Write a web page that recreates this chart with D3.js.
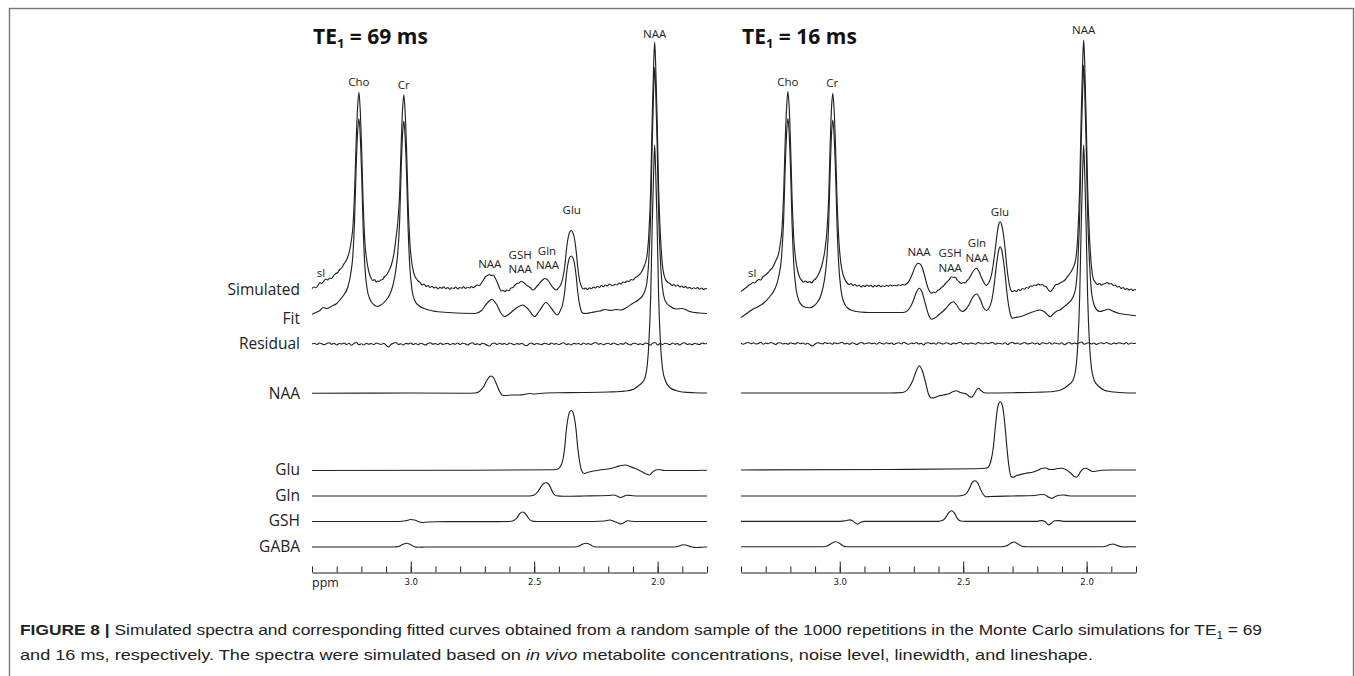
<!DOCTYPE html>
<html>
<head>
<meta charset="utf-8">
<script src="https://cdn.jsdelivr.net/npm/d3@7"></script>
<style>
  body { margin: 0; background: #fff; }
  svg { display: block; }
</style>
</head>
<body>
<svg width="1355" height="676"></svg>
<script>
// ---- data (ppm, amplitude in a.u.; NAA singlet ~ 100) ----

// TE1 = 69 ms
const simLeft = [
  [3.400, 0.0],[3.392, 0.6],[3.384, 0.3],[3.376, 1.2],[3.368, 2.4],[3.360, 2.0],[3.352, 3.0],[3.344, 3.8],[3.336, 3.4],[3.328, 4.2],
  [3.320, 4.0],[3.312, 5.2],[3.304, 6.0],[3.296, 6.4],[3.288, 7.6],[3.280, 8.2],[3.272, 9.6],[3.264, 10.8],[3.256, 12.4],[3.248, 15],
  [3.241, 19],[3.234, 25],[3.227, 40],[3.221, 59],[3.215, 73],[3.210, 78.5],[3.205, 72],[3.199, 56],[3.193, 35],[3.186, 19],
  [3.177, 10.5],[3.170, 6.8],[3.162, 4.4],[3.154, 3.2],[3.146, 3.6],[3.140, 2.6],[3.134, 3.0],[3.128, 2.8],[3.122, 3.4],[3.114, 3.6],
  [3.106, 4.8],[3.098, 5.4],[3.088, 7.2],[3.078, 9.6],[3.068, 14],[3.060, 20],[3.052, 27],[3.045, 38],[3.039, 57],[3.033, 72],
  [3.028, 77.5],[3.023, 71],[3.017, 56],[3.011, 35],[3.004, 19],[2.995, 9.8],[2.986, 5.6],[2.978, 4.0],[2.970, 3.0],[2.962, 2.4],
  [2.954, 1.4],[2.946, 1.8],[2.938, 0.8],[2.930, 1.2],[2.922, 0.4],[2.914, 0.9],[2.906, 0.2],[2.898, 0.6],[2.890, -0.2],[2.882, 0.5],
  [2.874, 0.1],[2.866, 0.7],[2.858, -0.1],[2.850, 0.4],[2.842, -0.3],[2.834, 0.3],[2.826, 0.0],[2.818, 0.6],[2.810, -0.2],[2.802, 0.4],
  [2.794, 0.1],[2.786, 0.7],[2.778, 0.0],[2.770, 0.5],[2.762, 0.2],[2.754, 0.8],[2.746, 0.3],[2.738, 0.9],[2.730, 1.4],[2.722, 1.2],
  [2.714, 2.2],[2.706, 3.4],[2.698, 4.6],[2.690, 5.2],[2.682, 5.6],[2.674, 5.2],[2.666, 5.4],[2.658, 4.2],[2.650, 2.6],[2.642, 0.6],
  [2.634, -1.0],[2.626, -0.8],[2.618, -1.2],[2.610, -0.6],[2.602, -0.9],[2.594, 0.2],[2.586, 0.4],[2.578, 1.4],[2.570, 2.0],[2.562, 2.2],
  [2.554, 2.8],[2.546, 2.6],[2.538, 2.0],[2.530, 1.2],[2.522, 0.8],[2.514, 0.2],[2.506, -0.6],[2.498, -0.2],[2.490, 0.8],[2.482, 1.6],
  [2.474, 2.6],[2.466, 3.4],[2.458, 4.0],[2.450, 3.8],[2.442, 3.0],[2.434, 1.8],[2.426, 0.6],[2.418, -0.2],[2.410, -0.6],[2.402, 0.2],
  [2.392, 1.6],[2.384, 4.2],[2.376, 9],[2.370, 15],[2.362, 20.5],[2.356, 22.6],[2.350, 23.2],[2.344, 22.4],[2.338, 20.5],[2.330, 15],
  [2.324, 9],[2.316, 3.2],[2.308, 0.6],[2.300, -0.2],[2.292, 0.2],[2.284, -0.4],[2.276, 0.3],[2.268, -0.1],[2.260, 0.6],[2.252, 0.2],
  [2.244, 0.9],[2.236, 0.4],[2.228, 1.2],[2.220, 0.7],[2.212, 1.4],[2.204, 1.0],[2.196, 1.8],[2.188, 1.3],[2.180, 1.2],[2.172, 1.7],
  [2.164, 1.4],[2.156, 2.2],[2.148, 1.8],[2.140, 2.6],[2.132, 2.4],[2.124, 3.0],[2.116, 2.8],[2.108, 3.6],[2.100, 3.4],[2.090, 4.4],
  [2.080, 5.0],[2.068, 6.2],[2.056, 8.6],[2.044, 12.5],[2.036, 21],[2.028, 40],[2.022, 68],[2.016, 90],[2.012, 98.6],[2.008, 90],
  [2.002, 68],[1.996, 40],[1.988, 20],[1.980, 9],[1.968, 3.6],[1.958, 2.4],[1.950, 2.0],[1.942, 1.2],[1.934, 1.6],[1.926, 0.9],
  [1.918, 1.4],[1.910, 0.6],[1.902, 1.0],[1.894, 0.4],[1.886, 0.8],[1.878, 0.1],[1.870, 0.5],[1.862, -0.2],[1.854, 0.3],[1.846, 0.0],
  [1.838, 0.4],[1.830, -0.3],[1.822, 0.2],[1.814, -0.4],[1.806, 0.0],[1.800, -0.2]
];

const fitLeft = [
  [3.400, -0.3],[3.385, 0.4],[3.368, 1.2],[3.355, 2.4],[3.340, 2.0],[3.322, 2.8],[3.300, 4.0],[3.285, 5.6],[3.270, 7.6],[3.255, 10.5],
  [3.243, 16],[3.234, 24],[3.227, 39],[3.221, 59],[3.215, 73],[3.210, 78],[3.205, 72],[3.199, 56],[3.193, 35],[3.186, 19],
  [3.177, 10],[3.165, 5.6],[3.150, 3.6],[3.137, 2.8],[3.121, 3.4],[3.101, 5.2],[3.085, 7.6],[3.073, 11],[3.061, 17],[3.052, 25],
  [3.045, 37],[3.039, 57],[3.033, 72],[3.028, 77],[3.023, 71],[3.017, 56],[3.011, 35],[3.004, 19],[2.995, 9.5],[2.983, 5],
  [2.965, 3],[2.940, 1.8],[2.910, 1],[2.850, 0.4],[2.740, 0],[2.713, 1.2],[2.692, 4],[2.672, 5.6],[2.652, 3.6],[2.636, 0.4],
  [2.620, -1.2],[2.599, 0],[2.575, 2],[2.547, 3.4],[2.523, 1.6],[2.499, -1.2],[2.478, 1.2],[2.452, 4.4],[2.430, 2],[2.406, -0.6],
  [2.394, 1.2],[2.384, 4],[2.376, 9],[2.370, 15],[2.362, 20.5],[2.356, 22.5],[2.350, 23],[2.344, 22.5],[2.338, 20.5],[2.330, 15],
  [2.324, 9],[2.314, 2.6],[2.304, 0.2],[2.292, 0],[2.268, 0.4],[2.235, 1],[2.211, 1.6],[2.190, 1.2],[2.170, 1.6],[2.150, 1.4],
  [2.126, 2.4],[2.102, 4],[2.076, 5.6],[2.056, 8],[2.044, 12],[2.036, 21],[2.028, 40],[2.022, 68],[2.016, 90],[2.012, 98.4],
  [2.008, 90],[2.002, 68],[1.996, 40],[1.988, 20],[1.980, 10],[1.968, 4.8],[1.948, 2.8],[1.925, 1.8],[1.899, 2.0],[1.871, 0.8],
  [1.831, 0.2],[1.800, 0]
];

// residual, 161 samples evenly spaced from 3.4 to 1.8 ppm
const resLeft = [
  0, 0.3, -0.2, 0.4, 0.1, -0.3, 0.2, 0.5, -0.1, 0.3, -0.4, 0.2, 0.0, 0.4, -0.2, 0.3, -0.5, 0.2, 0.6, -0.3,
  0.1, -0.4, 0.3, -0.1, 0.2, -0.3, 0.4, 0.1, -0.2, 0.3, -0.5, -1.2, -0.2, 0.3, 0.6, -0.2, 0.1, -0.4, 0.3, 0.0,
  0.4, -0.2, 0.2, -0.3, 0.3, 0.0, -0.4, 0.2, 0.5, -0.1, 0.2, -0.3, 0.4, -0.2, 0.1, 0.3, -0.3, 0.2, -0.1, 0.4,
  -0.2, 0.3, 0.1, -0.4, 0.2, 0.5, -0.2, 0.1, -0.3, 0.3, 0.0, -0.5, -0.8, 0.2, 0.4, -0.2, 0.3, -0.1, 0.2, -0.3,
  0.4, 0.1, -0.3, 0.2, -0.1, 0.3, -0.4, -0.7, 0.1, 0.4, -0.2, 0.2, 0.0, -0.3, 0.3, 0.1, -0.2, 0.4, -0.1, 0.2,
  -0.3, 0.2, 0.5, -0.2, 0.1, -0.4, 0.3, 0.0, 0.2, -0.3, 0.4, -0.1, 0.2, -0.2, 0.3, 0.6, -0.1, 0.2, -0.3, 0.1,
  0.3, -0.2, 0.4, 0.1, -0.3, 0.2, -0.1, 0.5, 0.0, -0.4, 0.2, 0.3, -0.2, 0.1, -0.3, 0.4, 0.2, -0.5, 0.3, 0.6,
  -0.4, 0.2, -0.2, 0.3, 0.1, -0.3, 0.4, -0.1, 0.2, -0.4, 0.3, 0.5, -0.2, 0.1, -0.3, 0.3, 0.0, -0.2, 0.4, 0.1, 0.2
];

const naaLeft = [
  [3.400, -0.1],[3.000, 0],[2.780, -0.1],[2.740, 0],[2.722, 0.6],[2.706, 2.4],[2.692, 5.0],[2.680, 6.6],[2.674, 6.8],[2.664, 6.0],
  [2.652, 3.4],[2.640, 0.6],[2.628, -0.9],[2.615, -1.0],[2.590, -0.8],[2.560, -0.8],[2.540, -0.6],[2.520, -0.2],[2.500, -0.4],[2.480, -0.2],
  [2.450, 0],[2.400, 0.1],[2.300, 0.2],[2.200, 0.4],[2.150, 0.6],[2.120, 0.9],[2.096, 1.6],[2.076, 3.0],[2.056, 5],[2.044, 9.6],
  [2.036, 19],[2.028, 39],[2.022, 67],[2.016, 89],[2.012, 99.2],[2.008, 89],[2.002, 67],[1.996, 39],[1.988, 19],[1.980, 9.6],
  [1.968, 4.8],[1.948, 2.0],[1.925, 1.0],[1.900, 0.4],[1.850, 0.1],[1.800, 0]
];
const gluLeft = [
  [3.400, 0],[2.800, 0.1],[2.420, 0.3],[2.404, 0.6],[2.394, 1.6],[2.384, 4.2],[2.376, 9.5],[2.370, 16],[2.362, 21.5],[2.356, 23.5],
  [2.350, 24],[2.344, 23.5],[2.338, 21.5],[2.330, 16],[2.324, 9.5],[2.316, 3.5],[2.308, 0],[2.298, -1.2],[2.285, -0.8],[2.260, -0.2],
  [2.235, 0.2],[2.190, 0.8],[2.168, 1.4],[2.148, 2.0],[2.130, 2.2],[2.112, 1.6],[2.090, 0.8],[2.065, -0.4],[2.046, -1.4],[2.034, -1.8],
  [2.022, -0.8],[2.008, 0.2],[1.992, 0.4],[1.975, 0],[1.900, 0],[1.800, 0.1]
];
const glnLeft = [
  [3.400, 0],[2.520, 0],[2.500, 0.4],[2.486, 1.6],[2.472, 3.8],[2.461, 5.0],[2.451, 5.3],[2.442, 4.8],[2.432, 3.0],[2.422, 1.0],
  [2.410, 0.1],[2.380, -0.1],[2.300, 0],[2.200, 0.2],[2.176, 0.4],[2.160, -0.2],[2.150, -0.6],[2.140, -0.3],[2.125, 0.3],[2.110, 0.2],
  [2.080, 0],[1.800, 0]
];
const gshLeft = [
  [3.400, 0],[3.050, 0],[3.020, 0.3],[3.000, 0.8],[2.985, 0.6],[2.970, 0],[2.955, -0.4],[2.930, -0.2],[2.900, -0.1],[2.600, 0],
  [2.585, 0.3],[2.570, 1.4],[2.558, 3.2],[2.546, 3.8],[2.534, 3.0],[2.522, 1.2],[2.510, 0.2],[2.490, 0],[2.300, 0],[2.215, 0.2],
  [2.195, 0.6],[2.175, 0],[2.160, -0.6],[2.148, -1.0],[2.136, -0.4],[2.122, 0.3],[2.105, 0.1],[2.080, 0],[1.800, 0]
];
const gabaLeft = [
  [3.400, 0],[3.070, 0],[3.050, 0.2],[3.035, 0.9],[3.017, 1.5],[3.000, 0.9],[2.985, 0.1],[2.970, -0.1],[2.940, 0],[2.340, 0],
  [2.320, 0.3],[2.305, 1.1],[2.289, 1.5],[2.272, 0.9],[2.258, 0.1],[2.240, 0],[1.930, 0],[1.915, 0.3],[1.902, 0.8],[1.890, 0.9],
  [1.875, 0.4],[1.860, 0],[1.845, -0.2],[1.820, -0.1],[1.800, 0]
];

// TE1 = 16 ms
const simRight = [
  [3.400, -2.0],[3.392, -1.4],[3.384, -0.8],[3.376, -0.2],[3.368, 0.6],[3.360, 1.0],[3.352, 1.6],[3.344, 1.4],[3.336, 2.2],[3.328, 2.8],
  [3.320, 2.6],[3.312, 3.8],[3.304, 4.4],[3.296, 5.0],[3.288, 5.8],[3.280, 6.8],[3.272, 7.6],[3.264, 9.2],[3.256, 11],[3.248, 13],
  [3.241, 17],[3.234, 23],[3.227, 38],[3.221, 58],[3.215, 72],[3.210, 78],[3.205, 72],[3.199, 56],[3.193, 35],[3.186, 19],
  [3.177, 9.8],[3.170, 6.0],[3.162, 3.6],[3.154, 2.4],[3.146, 1.8],[3.138, 2.2],[3.130, 1.6],[3.122, 2.0],[3.114, 1.4],[3.106, 2.4],
  [3.098, 3.0],[3.090, 4.2],[3.080, 6.2],[3.070, 9.4],[3.061, 14],[3.052, 22],[3.045, 35],[3.039, 56],[3.033, 72],[3.028, 77.3],
  [3.023, 71],[3.017, 56],[3.011, 35],[3.004, 19],[2.995, 9],[2.986, 4.6],[2.978, 2.6],[2.970, 1.4],[2.962, 0.8],[2.954, 1.2],
  [2.946, 0.4],[2.938, 0.8],[2.930, 0.1],[2.922, 0.6],[2.914, -0.2],[2.906, 0.4],[2.898, 0.0],[2.890, 0.6],[2.882, 0.1],[2.874, 0.5],
  [2.866, -0.2],[2.858, 0.4],[2.850, 0.0],[2.842, 0.6],[2.834, -0.1],[2.826, 0.3],[2.818, 0.0],[2.810, 0.5],[2.802, 0.1],[2.794, 0.6],
  [2.786, 0.2],[2.778, 0.5],[2.770, 0.3],[2.762, 0.7],[2.754, 0.4],[2.746, 0.8],[2.738, 0.6],[2.728, 1.2],[2.718, 2.4],[2.706, 5.0],
  [2.694, 8.0],[2.684, 9.3],[2.676, 9.1],[2.666, 7.6],[2.656, 4.2],[2.646, 0.4],[2.636, -2.0],[2.628, -2.7],[2.620, -2.2],[2.612, -2.5],
  [2.604, -1.6],[2.596, -1.2],[2.588, -0.4],[2.580, 0.2],[2.572, 1.2],[2.564, 2.0],[2.556, 2.8],[2.548, 3.9],[2.540, 3.6],[2.532, 3.8],
  [2.524, 2.6],[2.516, 1.8],[2.508, 1.2],[2.500, 1.6],[2.492, 1.4],[2.484, 2.4],[2.476, 3.2],[2.466, 5.0],[2.456, 6.6],[2.446, 7.3],
  [2.436, 6.0],[2.426, 3.6],[2.416, 1.6],[2.406, 0.4],[2.396, 1.6],[2.386, 4.4],[2.378, 9],[2.370, 15],[2.362, 21.5],[2.356, 24.8],
  [2.350, 25.9],[2.344, 24.6],[2.338, 21.5],[2.330, 15],[2.324, 8.6],[2.316, 2.4],[2.308, -1.2],[2.300, -2.1],[2.292, -1.6],[2.284, -2.0],
  [2.276, -1.2],[2.268, -1.6],[2.260, -0.8],[2.252, -1.1],[2.244, -0.4],[2.236, -0.7],[2.228, 0.2],[2.220, 0.1],[2.212, 0.6],[2.204, 0.4],
  [2.196, 1.0],[2.188, 0.6],[2.180, 0.8],[2.172, 0.2],[2.164, -0.1],[2.156, -1.2],[2.148, -2.0],[2.140, -1.4],[2.132, -0.2],[2.124, 0.8],
  [2.116, 0.9],[2.108, 1.4],[2.100, 1.8],[2.090, 2.4],[2.080, 3.6],[2.068, 5.2],[2.056, 7.2],[2.044, 11],[2.036, 20],[2.028, 40],
  [2.022, 68],[2.016, 90],[2.012, 98.6],[2.008, 90],[2.002, 68],[1.996, 40],[1.988, 19],[1.980, 7.6],[1.972, 2.8],[1.964, 1.6],
  [1.956, 0.8],[1.948, 1.2],[1.940, 0.6],[1.932, 1.0],[1.924, 1.2],[1.916, 1.6],[1.908, 1.0],[1.900, 1.2],[1.892, 0.4],[1.884, 0.6],
  [1.876, -0.2],[1.868, 0.0],[1.860, -0.8],[1.852, -0.4],[1.844, -1.2],[1.836, -0.8],[1.828, -1.4],[1.820, -1.0],[1.812, -1.6],[1.806, -1.2],
  [1.800, -1.4]
];

const fitRight = [
  [3.400, -2.0],[3.380, -0.6],[3.357, 1.0],[3.330, 2.4],[3.310, 3.6],[3.283, 6.4],[3.262, 9.6],[3.248, 14],[3.236, 22],[3.227, 38],
  [3.221, 58],[3.215, 72],[3.210, 77.7],[3.205, 72],[3.199, 56],[3.193, 35],[3.186, 19],[3.177, 9.5],[3.165, 4.6],[3.150, 2.6],
  [3.135, 2.0],[3.121, 1.9],[3.105, 2.6],[3.090, 4.2],[3.076, 7],[3.062, 13],[3.052, 22],[3.045, 35],[3.039, 56],[3.033, 72],
  [3.028, 77],[3.023, 71],[3.017, 56],[3.011, 35],[3.004, 19],[2.995, 9],[2.983, 4],[2.970, 2.0],[2.955, 1.0],[2.918, 0.2],
  [2.880, 0],[2.745, 0],[2.730, 0.4],[2.718, 1.6],[2.705, 4.0],[2.690, 8.0],[2.678, 9.7],[2.666, 8.0],[2.652, 3.0],[2.640, -1.0],
  [2.628, -2.7],[2.615, -2.2],[2.600, -1.0],[2.585, 0.2],[2.570, 1.6],[2.555, 3.4],[2.540, 4.3],[2.528, 3.2],[2.516, 1.4],[2.504, 0.4],
  [2.490, 1.2],[2.475, 3.4],[2.462, 6.0],[2.445, 7.4],[2.430, 5.0],[2.418, 2.0],[2.405, 0.8],[2.394, 2.0],[2.384, 5],[2.376, 10],
  [2.370, 15],[2.362, 21.5],[2.356, 25],[2.350, 26.3],[2.344, 25],[2.338, 21.5],[2.330, 15],[2.324, 9],[2.316, 2.8],[2.308, -1.0],
  [2.300, -2.3],[2.290, -2.0],[2.270, -1.7],[2.250, -1.0],[2.230, -0.2],[2.216, 0.3],[2.200, 0.8],[2.189, 1.0],[2.170, 0.2],[2.155, -1.2],
  [2.148, -1.7],[2.135, -0.5],[2.120, 0.6],[2.108, 1.0],[2.095, 2.0],[2.076, 3.6],[2.056, 6],[2.044, 10],[2.036, 19.5],[2.028, 39.5],
  [2.022, 67.5],[2.016, 89.5],[2.012, 99],[2.008, 89.5],[2.002, 67.5],[1.996, 39.5],[1.988, 19.5],[1.980, 8],[1.972, 3.8],[1.960, 1.2],
  [1.946, 0.4],[1.930, 0.8],[1.912, 1.3],[1.895, 0.6],[1.870, -0.3],[1.840, -0.8],[1.800, -1.3]
];

const resRight = [
  0.1, -0.3, 0.2, 0.4, -0.1, 0.3, -0.2, 0.0, 0.5, -0.3, 0.2, -0.1, 0.4, 0.1, -0.4, 0.2, 0.3, -0.2, 0.1, -0.3,
  0.3, 0.0, -0.2, 0.4, -0.1, 0.2, -0.3, 0.1, -0.5, -1.0, -0.2, 0.3, 0.1, -0.2, 0.4, 0.0, 0.2, -0.3, 0.3, -0.1,
  0.2, 0.5, -0.2, 0.1, -0.3, 0.3, 0.0, -0.4, 0.2, 0.4, -0.2, 0.1, 0.3, -0.1, 0.2, -0.3, 0.4, 0.0, -0.2, 0.3,
  -0.1, 0.2, -0.4, 0.1, 0.3, -0.2, 0.5, 0.0, -0.3, 0.2, -0.1, 0.4, -0.2, 0.1, -0.6, 0.2, 0.3, -0.1, 0.2, -0.3,
  0.4, 0.0, -0.2, 0.3, 0.1, -0.4, 0.2, -0.1, 0.3, 0.5, -0.3, 0.1, -0.2, 0.2, 0.0, -0.3, 0.4, 0.1, -0.2, 0.3,
  -0.1, 0.2, 0.4, -0.3, 0.1, 0.0, -0.2, 0.3, -0.4, 0.2, 0.5, -0.1, 0.2, -0.3, 0.1, 0.4, -0.2, 0.0, 0.3, -0.2,
  0.2, -0.4, 0.3, 0.1, -0.1, 0.4, -0.3, 0.2, 0.0, -0.2, 0.3, -0.5, 0.1, 0.4, -0.2, 0.2, -0.1, 0.3, 0.6, -0.3,
  0.1, 0.3, -0.2, 0.2, -0.4, 0.1, 0.3, -0.1, 0.4, 0.0, -0.3, 0.2, -0.1, 0.3, 0.1, -0.2, 0.4, -0.3, 0.2, 0.0, 0.1
];

const naaRight = [
  [3.400, 0],[2.800, 0],[2.745, 0.2],[2.725, 1.4],[2.705, 4.8],[2.690, 8.8],[2.678, 10.9],[2.666, 9.0],[2.652, 4.0],[2.640, -0.6],
  [2.628, -2.0],[2.615, -1.8],[2.600, -1.2],[2.580, -0.8],[2.555, -0.2],[2.540, 0.6],[2.526, 0.9],[2.512, 0.2],[2.500, -0.1],[2.488, -0.3],
  [2.478, -1.2],[2.466, -1.7],[2.455, -0.4],[2.445, 1.4],[2.438, 1.9],[2.428, 1.0],[2.415, 0.1],[2.400, 0],[2.300, 0.1],[2.200, 0.3],
  [2.135, 0.6],[2.100, 1.4],[2.076, 3.0],[2.056, 5],[2.044, 9.6],[2.036, 19],[2.028, 39],[2.022, 67],[2.016, 89],[2.012, 99.2],
  [2.008, 89],[2.002, 67],[1.996, 39],[1.988, 19],[1.980, 9.6],[1.968, 4.8],[1.948, 2.4],[1.930, 1.2],[1.900, 0.5],[1.850, 0.1],
  [1.800, 0]
];
const gluRight = [
  [3.400, 0],[2.800, 0.2],[2.450, 0.5],[2.410, 0.7],[2.398, 1.2],[2.388, 3.5],[2.378, 9],[2.370, 17],[2.362, 24],[2.356, 26.6],
  [2.350, 27.3],[2.344, 26.6],[2.338, 24],[2.330, 17],[2.322, 8],[2.314, 1.0],[2.306, -2.6],[2.298, -2.9],[2.285, -2.3],[2.250, -1.4],
  [2.216, -0.8],[2.195, 0],[2.180, 0.7],[2.165, 0.8],[2.150, 0.2],[2.135, 0.2],[2.118, 0.6],[2.100, 0.7],[2.085, 0.2],[2.065, -1.2],
  [2.050, -2.6],[2.040, -2.9],[2.028, -1.2],[2.015, 0.4],[2.002, 0.7],[1.990, 0.1],[1.975, -0.6],[1.960, -0.4],[1.940, -0.1],[1.900, 0],
  [1.800, 0]
];
const glnRight = [
  [3.400, 0],[2.520, 0],[2.500, 0.3],[2.485, 1.2],[2.472, 3.6],[2.462, 5.6],[2.452, 6.1],[2.442, 5.4],[2.432, 3.2],[2.420, 0.8],
  [2.408, -0.3],[2.390, -0.2],[2.300, 0],[2.210, 0.2],[2.185, 0.6],[2.170, 0.5],[2.155, -0.4],[2.142, -0.9],[2.128, -0.3],[2.110, 0.3],
  [2.092, 0.4],[2.075, 0.1],[2.050, 0],[1.800, 0]
];
const gshRight = [
  [3.400, 0],[3.000, 0],[2.975, 0.2],[2.960, 0.6],[2.948, 0.2],[2.938, -0.6],[2.928, -1.1],[2.915, -0.4],[2.900, 0],[2.600, 0],
  [2.585, 0.3],[2.572, 1.4],[2.558, 3.5],[2.547, 4.2],[2.536, 3.4],[2.524, 1.2],[2.510, 0.1],[2.490, 0],[2.200, 0],[2.182, 0.3],
  [2.168, -0.2],[2.155, -1.4],[2.143, -0.8],[2.130, 0.2],[2.115, 0.3],[2.095, 0],[1.800, 0]
];
const gabaRight = [
  [3.400, 0],[3.070, 0],[3.050, 0.3],[3.034, 1.3],[3.016, 2.0],[2.998, 1.2],[2.984, 0.2],[2.970, 0],[2.345, 0],[2.326, 0.3],
  [2.310, 1.2],[2.294, 1.9],[2.278, 1.1],[2.262, 0.2],[2.245, 0],[1.935, 0],[1.920, 0.3],[1.905, 0.9],[1.892, 1.1],[1.878, 0.6],
  [1.864, 0.1],[1.850, -0.1],[1.830, 0],[1.800, 0]
];

// peak annotations: text, ppm, level (a.u. above the simulated trace baseline)
const peakLabelsLeft = [
  ["sl", 3.364, 6.2], ["Cho", 3.210, 82.6], ["Cr", 3.028, 81.4], ["NAA", 2.680, 9.8],
  ["GSH", 2.557, 13.6], ["NAA", 2.557, 8.0], ["Gln", 2.448, 15.2], ["NAA", 2.446, 9.6],
  ["Glu", 2.348, 31.4], ["NAA", 2.012, 101.8]
];
const peakLabelsRight = [
  ["sl", 3.355, 5.4], ["Cho", 3.210, 81.8], ["Cr", 3.030, 81.4], ["NAA", 2.679, 13.8],
  ["GSH", 2.553, 13.4], ["NAA", 2.553, 7.4], ["Gln", 2.444, 17.4], ["NAA", 2.444, 11.4],
  ["Glu", 2.351, 29.9], ["NAA", 2.012, 102.6]
];

const rowNames = ["Simulated", "Fit", "Residual", "NAA", "Glu", "Gln", "GSH", "GABA"];
const minorTicks = [3.4, 3.3, 3.2, 3.1, 3.0, 2.9, 2.8, 2.7, 2.6, 2.5, 2.4, 2.3, 2.2, 2.1, 2.0, 1.9, 1.8];
const majorTicks = [3.0, 2.5, 2.0];
const tickLabels = ["3.0", "2.5", "2.0"];
const echoTimes = ["69", "16"];

// ---- layout ----
const svg = d3.select("svg");
const ink = "#222";
const sans = "'Open Sans', 'Noto Sans', sans-serif";

// figure frame
svg.append("rect")
  .attr("x", 9.5).attr("y", 8.5).attr("width", 1344).attr("height", 720)
  .attr("fill", "none").attr("stroke", "#777").attr("stroke-width", 1.4);

const amp = d3.scaleLinear().domain([0, 100]).range([0, 250]);
const resIndex = d3.scaleLinear().domain([0, 160]).range([3.4, 1.8]);

// trace baselines (px): sim, fit, residual, NAA, Glu, Gln, GSH, GABA
const basesLeft = [288.5, 313.5, 344, 393, 470.5, 496, 521.5, 547];
const basesRight = [286.5, 312.5, 343.5, 393, 470, 496, 521.3, 546.7];
const rowLabelY = [290, 319, 344, 394, 470, 496, 521, 547];

const panels = [
  { range: [312, 707], te: echoTimes[0], sim: simLeft, fit: fitLeft, res: resLeft,
    comps: [naaLeft, gluLeft, glnLeft, gshLeft, gabaLeft], labels: peakLabelsLeft, bases: basesLeft, first: true },
  { range: [741, 1136], te: echoTimes[1], sim: simRight, fit: fitRight, res: resRight,
    comps: [naaRight, gluRight, glnRight, gshRight, gabaRight], labels: peakLabelsRight, bases: basesRight, first: false }
];

panels.forEach(p => {
  const x = d3.scaleLinear().domain([3.4, 1.8]).range(p.range);
  const g = svg.append("g");

  const traces = [p.sim, p.fit, p.res.map((v, i) => [resIndex(i), v])].concat(p.comps);
  traces.forEach((t, i) => {
    const base = p.bases[i];
    const line = d3.line()
      .x(d => x(d[0]))
      .y(d => base - amp(d[1]))
      .curve(d3.curveMonotoneX);
    g.append("path")
      .datum(t)
      .attr("d", line)
      .attr("fill", "none")
      .attr("stroke", ink)
      .attr("stroke-width", 1.15)
      .attr("stroke-linejoin", "round");
  });

  // peak names
  g.selectAll("text.peak")
    .data(p.labels)
    .enter()
    .append("text")
    .attr("class", "peak")
    .attr("x", d => x(d[1]))
    .attr("y", d => p.bases[0] - amp(d[2]))
    .attr("dy", "0.35em")
    .attr("text-anchor", "middle")
    .attr("font-family", sans)
    .attr("font-size", 11.5)
    .attr("fill", ink)
    .text(d => d[0]);

  // title
  const title = g.append("text")
    .attr("x", p.range[0] + 1)
    .attr("y", 44)
    .attr("font-family", sans)
    .attr("font-weight", "bold")
    .attr("font-size", 21)
    .attr("fill", "#111");
  title.append("tspan").text("TE");
  title.append("tspan").attr("font-size", 13).attr("dy", 4).text("1");
  title.append("tspan").attr("dy", -4).text(" = " + p.te + " ms");

  // ppm axis: minor ticks every 0.1, major ticks with labels
  const axisY = 572.5;
  const minor = g.append("g").attr("transform", `translate(0,${axisY})`)
    .call(d3.axisBottom(x).tickValues(minorTicks).tickSizeInner(-6).tickSizeOuter(0).tickFormat(""));
  const major = g.append("g").attr("transform", `translate(0,${axisY})`)
    .call(d3.axisBottom(x).tickValues(majorTicks).tickSizeInner(-11).tickSizeOuter(0).tickPadding(6)
      .tickFormat((d, i) => tickLabels[i]));
  major.select(".domain").remove();
  [minor, major].forEach(a => {
    a.selectAll("path, line").attr("stroke", ink).attr("stroke-width", 1);
  });
  major.selectAll("text")
    .attr("font-family", "'DejaVu Sans', sans-serif")
    .attr("font-size", 8.5)
    .attr("fill", ink);

  if (p.first) {
    g.append("text")
      .attr("x", p.range[0])
      .attr("y", axisY + 10)
      .attr("dy", "0.35em")
      .attr("font-family", sans)
      .attr("font-size", 12.5)
      .attr("fill", ink)
      .text("ppm");

    g.selectAll("text.row")
      .data(rowNames)
      .enter()
      .append("text")
      .attr("class", "row")
      .attr("x", 300)
      .attr("y", (d, i) => rowLabelY[i])
      .attr("dy", "0.35em")
      .attr("text-anchor", "end")
      .attr("font-family", sans)
      .attr("font-size", 15.5)
      .attr("fill", ink)
      .text(d => d);
  }
});

// caption
const capFont = "'Liberation Sans Narrow', 'Arial Narrow', 'Liberation Sans', sans-serif";
const cap1 = svg.append("text")
  .attr("x", 20).attr("y", 635)
  .attr("font-family", capFont).attr("font-size", 15).attr("fill", ink)
  .attr("textLength", 1242).attr("lengthAdjust", "spacingAndGlyphs");
cap1.append("tspan").attr("font-weight", "bold").text("FIGURE 8 |");
cap1.append("tspan").text(" Simulated spectra and corresponding fitted curves obtained from a random sample of the 1000 repetitions in the Monte Carlo simulations for TE");
cap1.append("tspan").attr("font-size", 10).attr("dy", 4).text("1");
cap1.append("tspan").attr("dy", -4).text(" = 69");

const cap2 = svg.append("text")
  .attr("x", 20).attr("y", 660)
  .attr("font-family", capFont).attr("font-size", 15).attr("fill", ink)
  .attr("textLength", 1073).attr("lengthAdjust", "spacingAndGlyphs");
cap2.append("tspan").text("and 16 ms, respectively. The spectra were simulated based on ");
cap2.append("tspan").attr("font-style", "italic").text("in vivo");
cap2.append("tspan").text(" metabolite concentrations, noise level, linewidth, and lineshape.");
</script>
</body>
</html>
